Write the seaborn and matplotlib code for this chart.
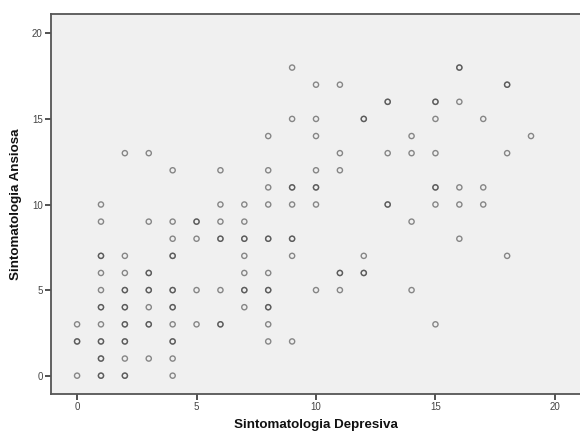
import matplotlib
matplotlib.use("Agg")
import matplotlib.pyplot as plt
import seaborn as sns
import pandas as pd

# Data (duplicates = overlapping / darker points)
depresiva = (
    [0, 0, 0, 0] +
    [1] * 15 +
    [2] * 14 +
    [3] * 10 +
    [4] * 14 +
    [5] * 5 +
    [6] * 8 +
    [7] * 9 +
    [8] * 13 +
    [9] * 9 +
    [10] * 8 +
    [11] * 6 +
    [12] * 5 +
    [13] * 5 +
    [14] * 4 +
    [15] * 8 +
    [16] * 6 +
    [17] * 3 +
    [18] * 4 +
    [19] * 1
)
ansiosa = (
    [0, 2, 2, 3] +
    [0, 0, 1, 1, 2, 2, 3, 4, 4, 5, 6, 7, 7, 9, 10] +
    [0, 0, 1, 2, 2, 3, 3, 4, 4, 5, 5, 6, 7, 13] +
    [1, 3, 3, 4, 5, 5, 6, 6, 9, 13] +
    [0, 1, 2, 2, 3, 4, 4, 5, 5, 7, 7, 8, 9, 12] +
    [3, 5, 8, 9, 9] +
    [3, 3, 5, 8, 8, 9, 10, 12] +
    [4, 5, 5, 6, 7, 8, 8, 9, 10] +
    [2, 3, 4, 4, 5, 5, 6, 8, 8, 10, 11, 12, 14] +
    [2, 7, 8, 8, 10, 11, 11, 15, 18] +
    [5, 10, 11, 11, 12, 14, 15, 17] +
    [5, 6, 6, 12, 13, 17] +
    [6, 6, 7, 15, 15] +
    [10, 10, 13, 16, 16] +
    [5, 9, 13, 14] +
    [3, 10, 11, 11, 13, 15, 16, 16] +
    [8, 10, 11, 16, 18, 18] +
    [10, 11, 15] +
    [7, 13, 17, 17] +
    [14]
)
x_ticks = [0, 5, 10, 15, 20]
y_ticks = [0, 5, 10, 15, 20]
x_label = "Sintomatologia Depresiva"
y_label = "Sintomatologia Ansiosa"

df = pd.DataFrame({x_label: depresiva, y_label: ansiosa})

sns.set_style("ticks")
plt.rcParams["font.family"] = ["Liberation Sans", "DejaVu Sans"]

fig = plt.figure(figsize=(5.8, 4.32), dpi=100)
ax = fig.add_axes([0.088, 0.088, 0.912, 0.8796])
ax.set_facecolor("#F0F0F0")

sns.scatterplot(data=df, x=x_label, y=y_label, ax=ax,
                marker="o", s=14, facecolors="none",
                edgecolor=(0.25, 0.25, 0.25, 0.6), linewidth=1.0)

ax.set_xlim(-1.09, 21.05)
ax.set_ylim(-1.07, 21.13)
ax.set_xticks(x_ticks)
ax.set_yticks(y_ticks)
ax.tick_params(axis="both", direction="out", length=4, width=1.2,
               color="#333333", labelsize=7, labelcolor="#444444", pad=2)

for side in ["left", "bottom", "top"]:
    ax.spines[side].set_color("#555555")
    ax.spines[side].set_linewidth(1.3)
ax.spines["right"].set_visible(False)

ax.set_xlabel(x_label, fontsize=9.6, fontweight="bold", color="#111111", labelpad=5)
ax.set_ylabel(y_label, fontsize=9.6, fontweight="bold", color="#111111", labelpad=7)

fig.savefig("out.png", dpi=100)
